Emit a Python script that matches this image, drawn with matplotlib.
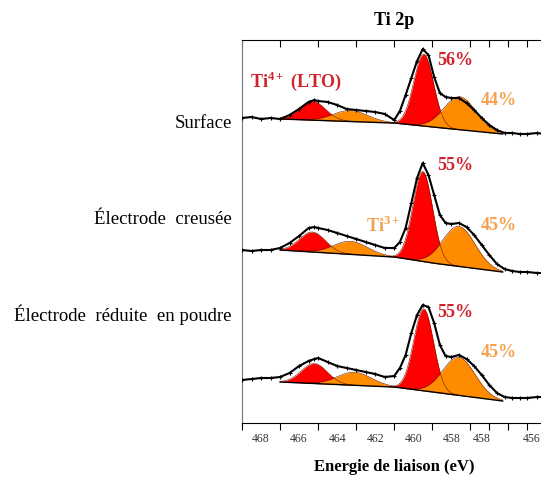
import numpy as np
import matplotlib
matplotlib.use('Agg')
import matplotlib.pyplot as plt
from matplotlib.ticker import MultipleLocator, FixedLocator, FixedFormatter

plt.rcParams['font.family'] = ['Liberation Serif', 'DejaVu Serif']
plt.rcParams['mathtext.fontset'] = 'custom'
plt.rcParams['mathtext.rm'] = 'Liberation Serif:bold'
plt.rcParams['mathtext.bf'] = 'Liberation Serif:bold'

# energies (eV) where the measured curves were read
energy = [469.0, 468.5, 468.0, 467.5, 467.0, 466.5, 466.0, 465.5, 465.2, 465.0,
          464.5, 464.0, 463.5, 463.0, 462.5, 462.0, 461.5, 461.0, 460.7, 460.4,
          460.1, 459.8, 459.5, 459.2, 458.9, 458.6, 458.3, 458.0, 457.6, 457.2,
          456.8, 456.4, 456.0, 455.6, 455.2, 454.8, 454.4, 454.0, 453.5, 453.1]

# measured intensities (offset stacked, arbitrary units)
surface = [305, 306, 304, 305, 304, 308, 314, 321, 323, 322,
           321, 318, 314, 313, 312, 311, 309, 303, 312, 328,
           345, 362, 374, 368, 346, 330, 326, 325, 325, 320,
           313, 305, 298, 293, 290, 290, 289, 289, 290, 289]
creusee = [173, 172, 173, 173, 175, 180, 187, 195, 196, 195,
           193, 190, 187, 184, 181, 178, 175, 175, 181, 195,
           220, 245, 260, 248, 228, 208, 200, 199, 200, 196,
           188, 178, 168, 159, 154, 152, 151, 151, 150, 150]
poudre = [43, 44, 45, 45, 46, 50, 57, 62, 64, 65,
          61, 57, 55, 53, 51, 49, 46, 47, 55, 68,
          90, 108, 118, 116, 100, 78, 67, 66, 68, 64,
          57, 48, 38, 30, 26, 25, 25, 25, 26, 26]
spectra = [surface, creusee, poudre]

# Shirley background knots for each spectrum
bkg_energy = [467.0, 461.0, 459.0, 455.3]
bkg_values = [[304, 300, 296, 289],
              [173, 166, 160, 151],
              [41, 36, 31, 22]]

# fitted components: (centre eV, height, sigma)
ti4_peaks = [[(465.3, 19, 0.68), (459.45, 72, 0.52)],
             [(465.3, 20, 0.68), (459.5, 90, 0.52)],
             [(465.2, 20, 0.68), (459.45, 82, 0.52)]]
ti3_peaks = [[(463.3, 11, 0.9), (457.55, 33, 0.85)],
             [(463.3, 13, 0.9), (457.6, 40, 0.85)],
             [(463.1, 13, 0.9), (457.6, 38, 0.85)]]

sample_names = ['Surface', 'Électrode  creusée', 'Électrode  réduite  en poudre']
ti4_pct = ['56%', '55%', '55%']
ti3_pct = ['44%', '45%', '45%']

tick_pos = [468, 466, 464, 462, 460, 458, 456.4, 453.75]
tick_txt = ['468', '466', '464', '462', '460', '458', '458', '456']

red = '#ff0000'
orange = '#ff8c00'
red_txt = '#d0222a'
orange_txt = '#f4a04e'

fig = plt.figure(figsize=(5.41, 4.83), dpi=100)
ax = fig.add_axes([242 / 541, 60 / 483, 1 - 242 / 541 + 0.01, 383 / 483])

efit = np.linspace(bkg_energy[0], bkg_energy[-1], 500)
for i, data in enumerate(spectra):
    bkg = np.interp(efit, bkg_energy[::-1], bkg_values[i][::-1])
    for peaks, col in ((ti4_peaks[i], red), (ti3_peaks[i], orange)):
        for c, h, s in peaks:
            g = h * np.exp(-0.5 * ((efit - c) / s) ** 2)
            m = g > 0.15
            ax.fill_between(efit, bkg, bkg + g, where=m, color=col, lw=0, zorder=2)
            ax.plot(efit[m], (bkg + g)[m], color='#6a1a00', lw=0.4, zorder=2.5)
    ax.plot(efit, bkg, color='black', lw=1.0, zorder=3)
    ax.plot(energy, data, color='black', lw=1.5, marker='+', ms=3, mew=0.8, zorder=4)

# annotations
bold = dict(fontsize=13, fontweight='bold')
ax.text(468.6, 336, r'Ti$^{4+}$ (LTO)', color=red_txt, **bold)
ax.text(462.5, 191, r'Ti$^{3+}$', color=orange_txt, **bold)
for y4, y3, t4, t3 in zip([358, 253, 106], [318, 193, 66], ti4_pct, ti3_pct):
    ax.text(458.74, y4, t4, color=red_txt, **bold)
    ax.text(456.46, y3, t3, color=orange_txt, **bold)

for y, name in zip([124, 219, 315], sample_names):
    fig.text(232 / 541, 1 - y / 483, name, ha='right', va='center', fontsize=13.5)

ax.set_xlim(469, 453.0)
ax.set_ylim(0, 383)
ax.set_yticks([])
ax.spines['right'].set_visible(False)
ax.spines['left'].set_color('#777777')
ax.xaxis.set_minor_locator(MultipleLocator(1))
ax.xaxis.set_major_locator(FixedLocator(tick_pos))
ax.xaxis.set_major_formatter(FixedFormatter(tick_txt))
ax.tick_params(axis='x', which='major', length=0, labelsize=8.5, labelcolor='#333333', pad=7)
ax.tick_params(axis='x', which='minor', length=5, direction='out', width=0.8)
ax.xaxis.set_ticks_position('both')

# top ticks point inward
for t in ax.xaxis.get_minor_ticks():
    t.tick2line.set_marker(matplotlib.lines.TICKDOWN)

ax.set_title('Ti 2p', fontsize=13, fontweight='bold', pad=11)
ax.set_xlabel('Energie de liaison (eV)', fontsize=12, fontweight='bold', labelpad=10)

fig.savefig('out.png', dpi=100)
